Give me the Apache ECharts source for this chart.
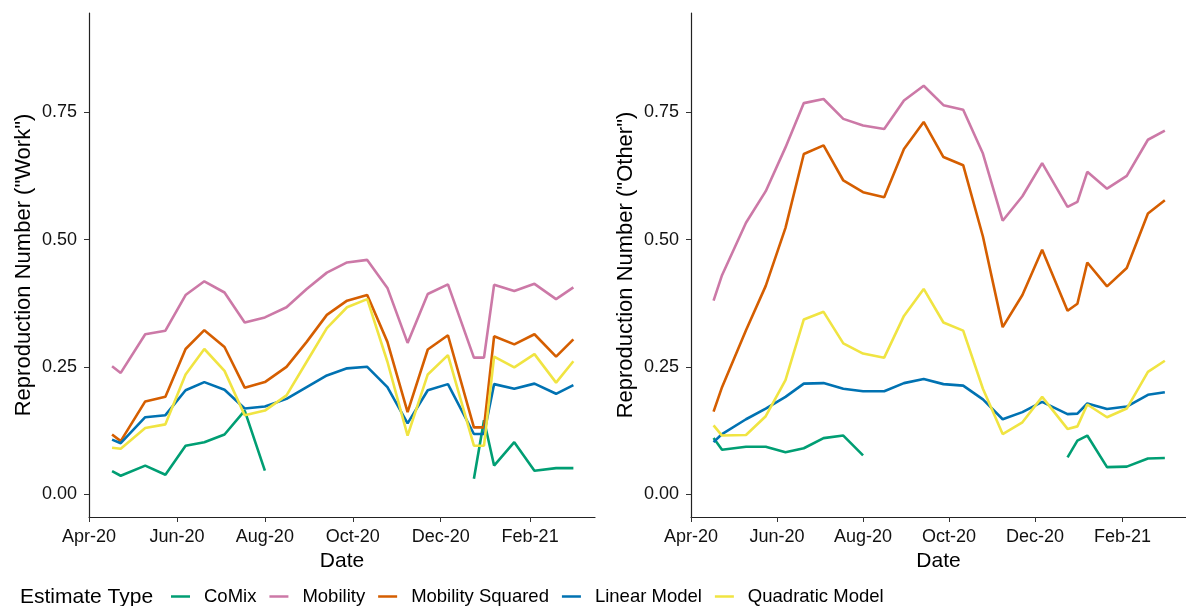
<!DOCTYPE html>
<html><head><meta charset="utf-8">
<script src="https://cdn.jsdelivr.net/npm/echarts@6/dist/echarts.min.js"></script>
<style>html,body{margin:0;padding:0;background:#fff}#c{width:1186px;height:606px}</style>
</head><body><div id="c"></div>
<script>
const dates = ['2020-04-17','2020-04-23','2020-05-10','2020-05-24','2020-06-07','2020-06-20','2020-07-04','2020-07-18','2020-08-01','2020-08-16','2020-08-30','2020-09-13','2020-09-27','2020-10-11','2020-10-25','2020-11-08','2020-11-22','2020-12-06','2020-12-24','2020-12-31','2021-01-07','2021-01-21','2021-02-04','2021-02-19','2021-03-03'];

const seriesNames = ['CoMix','Mobility','Mobility Squared','Linear Model','Quadratic Model'];
const seriesColors = ['#009E73','#CC79A7','#D55E00','#0072B2','#F0E442'];

// Work panel
const workComix     = [0.045,0.036,0.056,0.038,0.095,0.102,0.117,0.164,0.046,null,null,null,null,null,null,null,null,null,0.030,0.145,0.056,0.102,0.046,0.051,0.051];
const workMobility  = [0.251,0.238,0.314,0.321,0.391,0.418,0.396,0.337,0.347,0.367,0.403,0.435,0.455,0.460,0.405,0.297,0.393,0.412,0.268,0.268,0.411,0.399,0.413,0.383,0.406];
const workMobSq     = [0.117,0.104,0.182,0.191,0.285,0.322,0.289,0.209,0.220,0.250,0.299,0.352,0.380,0.391,0.299,0.161,0.284,0.312,0.131,0.131,0.310,0.294,0.314,0.270,0.304];
const workLinear    = [0.107,0.100,0.151,0.155,0.204,0.220,0.205,0.168,0.172,0.187,0.210,0.233,0.247,0.250,0.210,0.139,0.204,0.216,0.118,0.118,0.216,0.207,0.217,0.197,0.214];
const workQuadratic = [0.091,0.089,0.130,0.137,0.235,0.285,0.242,0.155,0.164,0.194,0.260,0.326,0.367,0.383,0.260,0.115,0.235,0.273,0.095,0.095,0.270,0.249,0.275,0.219,0.261];

// Other panel
const otherComix     = [0.110,0.087,0.093,0.093,0.082,0.090,0.110,0.115,0.076,null,null,null,null,null,null,null,null,null,0.072,0.105,0.115,0.053,0.054,0.070,0.071];
const otherMobility  = [0.380,0.430,0.533,0.595,0.681,0.768,0.776,0.737,0.724,0.717,0.773,0.802,0.764,0.755,0.669,0.537,0.585,0.650,0.564,0.574,0.633,0.600,0.625,0.696,0.714];
const otherMobSq     = [0.162,0.210,0.322,0.409,0.523,0.668,0.685,0.616,0.593,0.583,0.678,0.731,0.662,0.646,0.506,0.328,0.391,0.480,0.360,0.374,0.455,0.408,0.444,0.551,0.577];
const otherLinear    = [0.102,0.118,0.147,0.168,0.191,0.217,0.218,0.207,0.202,0.202,0.218,0.226,0.216,0.213,0.186,0.147,0.161,0.181,0.157,0.158,0.178,0.167,0.172,0.195,0.200];
const otherQuadratic = [0.135,0.115,0.116,0.153,0.224,0.343,0.358,0.296,0.276,0.268,0.350,0.403,0.337,0.321,0.207,0.118,0.141,0.191,0.128,0.133,0.176,0.151,0.168,0.240,0.262];

const tickDates  = ['2020-04-01','2020-06-01','2020-08-01','2020-10-01','2020-12-01','2021-02-01'];
const tickLabels = ['Apr-20','Jun-20','Aug-20','Oct-20','Dec-20','Feb-21'];
const yTicks = [0, 0.25, 0.5, 0.75];
const yTickLabels = ['0.00','0.25','0.50','0.75'];
const xMinDate = '2020-04-01', xMaxDate = '2021-03-18';
const yMin = -0.045, yMax = 0.945;

function ts(s){const p=s.split('-').map(Number);return Date.UTC(p[0],p[1]-1,p[2]);}
const xs = dates.map(ts);
const tickTs = tickDates.map(ts);
const FONT = '"Liberation Sans", Arial, sans-serif';

function xAxis(gi){
  return {
    type:'value', gridIndex:gi, min:ts(xMinDate), max:ts(xMaxDate),
    name:'Date', nameLocation:'middle', nameGap:34,
    nameTextStyle:{fontFamily:FONT,fontSize:21,color:'#000'},
    axisLine:{show:true,onZero:false,lineStyle:{color:'#222',width:1.2}},
    axisTick:{show:true,length:5,customValues:tickTs,lineStyle:{color:'#333',width:1}},
    axisLabel:{show:true,customValues:tickTs,margin:11,fontFamily:FONT,fontSize:18,color:'#111',
      formatter:function(v){const i=tickTs.indexOf(v);return i>=0?tickLabels[i]:'';}},
    splitLine:{show:false}
  };
}
function yAxis(gi,name){
  return {
    type:'value', gridIndex:gi, min:yMin, max:yMax,
    name:name, nameLocation:'middle', nameGap:54, nameRotate:90,
    nameTextStyle:{fontFamily:FONT,fontSize:22,color:'#000'},
    axisLine:{show:true,onZero:false,lineStyle:{color:'#222',width:1.2}},
    axisTick:{show:true,length:5,customValues:yTicks,lineStyle:{color:'#333',width:1}},
    axisLabel:{show:true,customValues:yTicks,margin:12,fontFamily:FONT,fontSize:18,color:'#111',
      formatter:function(v){const i=yTicks.findIndex(t=>Math.abs(t-v)<1e-9);return i>=0?yTickLabels[i]:'';}},
    splitLine:{show:false}
  };
}
function mk(name,vals,gi,color){
  return {name:name,type:'line',xAxisIndex:gi,yAxisIndex:gi,showSymbol:false,symbol:'none',
    connectNulls:false,animation:false,
    lineStyle:{color:color,width:2.6},itemStyle:{color:color},
    data:vals.map((v,i)=>[xs[i],v])};
}
const workSets=[workComix,workMobility,workMobSq,workLinear,workQuadratic];
const otherSets=[otherComix,otherMobility,otherMobSq,otherLinear,otherQuadratic];
const series=[];
workSets.forEach((v,i)=>series.push(mk(seriesNames[i],v,0,seriesColors[i])));
otherSets.forEach((v,i)=>series.push(mk(seriesNames[i],v,1,seriesColors[i])));

const chart = echarts.init(document.getElementById('c'));
chart.setOption({
  animation:false,
  backgroundColor:'#fff',
  grid:[{left:89,top:13,width:506,height:504},{left:691,top:13,width:506,height:504}],
  xAxis:[xAxis(0),xAxis(1)],
  yAxis:[yAxis(0,'Reproduction Number ("Work")'),yAxis(1,'Reproduction Number ("Other")')],
  legend:{left:171,top:587,icon:'rect',itemWidth:19,itemHeight:2.5,itemGap:13,padding:0,
    data:seriesNames,
    textStyle:{fontFamily:FONT,fontSize:18.5,lineHeight:18,color:'#000',padding:[0,0,0,9]}},
  graphic:[{type:'text',left:20,top:587,style:{text:'Estimate Type',font:'21px '+FONT,fill:'#000'}}],
  series:series
});
</script></body></html>
